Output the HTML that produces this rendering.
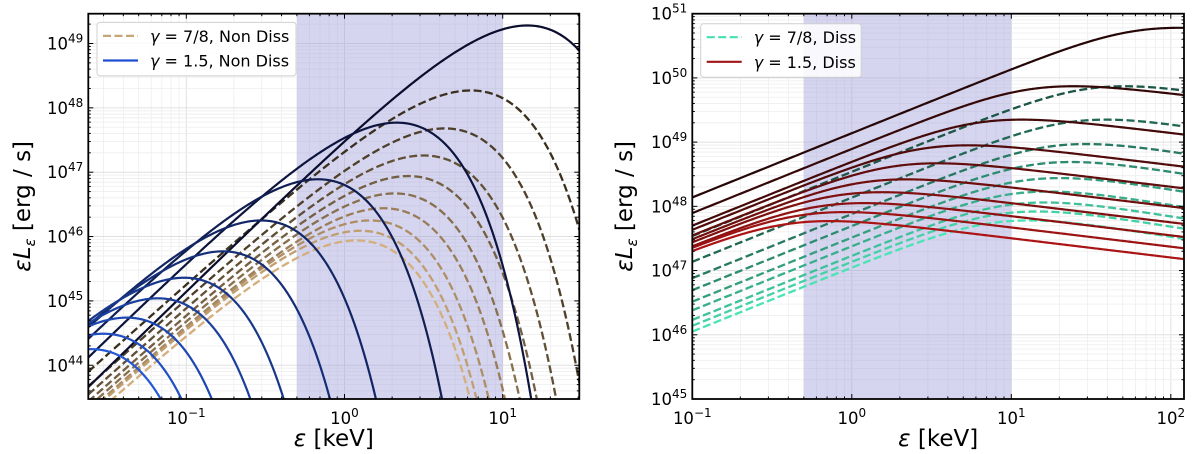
<!DOCTYPE html>
<html><head><meta charset="utf-8"><style>
html,body{margin:0;padding:0;background:#fff;width:1200px;height:454px;overflow:hidden;}
svg{display:block;font-family:"DejaVu Sans","Liberation Sans",sans-serif;}
</style></head><body>
<svg id="fig" width="1200" height="454" viewBox="0 0 1200 454">
<defs>
<clipPath id="clipL"><rect x="88.3" y="13.7" width="491" height="385.3"/></clipPath>
<clipPath id="clipR"><rect x="692.3" y="13.7" width="491.7" height="385.3"/></clipPath>
</defs>
<g id="left"></g>
<g id="right"></g>
</svg>
<script>
// ---- Left panel data (non-dissipative) ----
const blueE = [14.3, 2.14, 0.68, 0.296, 0.17, 0.097, 0.066, 0.042, 0.030, 0.025];
const blueLogL = [49.28, 47.77, 46.89, 46.25, 45.77, 45.36, 45.04, 44.74, 44.49, 44.25];
const tanE = [6.3, 4.3, 3.16, 2.53, 2.08, 1.76, 1.45, 1.26, 1.19];
const tanLogL = [48.27, 47.68, 47.26, 46.94, 46.67, 46.44, 46.25, 46.09, 45.94];
const leftXTicks = [-1, 0, 1];
const leftYTicks = [44, 45, 46, 47, 48, 49];
// ---- Right panel data (dissipative) ----
const redE = [113.5, 24.5, 11.6, 5.37, 3.44, 2.21, 1.55, 1.20, 0.91, 0.73];
const redLogL = [50.78, 49.87, 49.35, 48.95, 48.67, 48.42, 48.22, 48.05, 47.91, 47.77];
const greenE = [51.6, 39.3, 29.5, 23.8, 20.2, 17.0, 16.2, 14.5, 12.9];
const greenLogL = [49.87, 49.35, 48.97, 48.69, 48.44, 48.23, 48.06, 47.92, 47.78];
const rightXTicks = [-1, 0, 1, 2];
const rightYTicks = [45, 46, 47, 48, 49, 50, 51];
const band = [0.5, 10];

const NS = "http://www.w3.org/2000/svg";
function mk(tag, attrs, parent){const e=document.createElementNS(NS,tag);for(const k in attrs)e.setAttribute(k,attrs[k]);if(parent)parent.appendChild(e);return e;}
function lerpC(c1,c2,t){const a=[1,3,5].map(i=>parseInt(c1.substr(i,2),16)),b=[1,3,5].map(i=>parseInt(c2.substr(i,2),16));return "rgb("+a.map((v,i)=>Math.round(v+(b[i]-v)*t)).join(",")+")";}

function panel(g, P){
  const X = lx => P.x0 + (lx - P.lx0) * P.dx;
  const Y = ly => P.y0 - (ly - P.ly0) * P.dy;
  P.X=X;P.Y=Y;
  const grid=mk("g",{},g);
  
  
  for(let d=Math.floor(P.lxmin);d<=Math.ceil(P.lxmax);d++){
    for(let m=1;m<10;m++){const lx=d+Math.log10(m);if(lx<P.lxmin||lx>P.lxmax)continue;
      mk("line",{x1:X(lx),x2:X(lx),y1:P.top,y2:P.bottom,stroke:m==1?"#e0e0e0":"#eeeeee","stroke-width":m==1?1:0.8},grid);}
  }
  for(let d=Math.floor(P.lymin);d<=Math.ceil(P.lymax);d++){
    for(let m=1;m<10;m++){const ly=d+Math.log10(m);if(ly<P.lymin||ly>P.lymax)continue;
      mk("line",{y1:Y(ly),y2:Y(ly),x1:P.left,x2:P.right,stroke:m==1?"#e0e0e0":"#eeeeee","stroke-width":m==1?1:0.8},grid);}
  }
  const b=mk("rect",{x:X(Math.log10(band[0])),y:P.top,width:X(Math.log10(band[1]))-X(Math.log10(band[0])),height:P.bottom-P.top,fill:"#9c9cd8","fill-opacity":0.42},g);
  
  
  return {X,Y};
}

function curve(g,P,fn,color,dashed,name,clip){
  let d="";const N=400;
  for(let i=0;i<=N;i++){const lx=P.lxmin+(P.lxmax-P.lxmin)*i/N;const ly=fn(Math.pow(10,lx));
    let y=P.Y(ly); if(y>P.bottom+5)y=P.bottom+5; if(y<P.top-5)y=P.top-5;
    d+=(i?"L":"M")+P.X(lx).toFixed(2)+","+y.toFixed(2);}
  const p=mk("path",{d:d,fill:"none",stroke:color,"stroke-width":dashed?2.3:2.2,"clip-path":"url(#"+clip+")"},g);
  if(dashed)p.setAttribute("stroke-dasharray","8,3.5");
  
  
}

function axes(g,P,xt,yt,ylabelX){
  mk("rect",{x:P.left,y:P.top,width:P.right-P.left,height:P.bottom-P.top,fill:"none",stroke:"#000","stroke-width":1.8},g);
  const tk=mk("g",{stroke:"#000","stroke-width":1},g);
  for(let d=Math.floor(P.lxmin);d<=Math.ceil(P.lxmax);d++)for(let m=1;m<10;m++){const lx=d+Math.log10(m);if(lx<P.lxmin||lx>P.lxmax)continue;const L=m==1?5:2.5;const x=P.X(lx);
    mk("line",{x1:x,x2:x,y1:P.bottom,y2:P.bottom-L},tk);mk("line",{x1:x,x2:x,y1:P.top,y2:P.top+L},tk);}
  for(let d=Math.floor(P.lymin);d<=Math.ceil(P.lymax);d++)for(let m=1;m<10;m++){const ly=d+Math.log10(m);if(ly<P.lymin||ly>P.lymax)continue;const L=m==1?5:2.5;const y=P.Y(ly);
    mk("line",{y1:y,y2:y,x1:P.left,x2:P.left+L},tk);mk("line",{y1:y,y2:y,x1:P.right,x2:P.right-L},tk);}
  xt.forEach(v=>{const t=mk("text",{x:P.X(v),y:P.bottom+25,"text-anchor":"middle","font-size":16.5,fill:"#000"},g);
    
    
    t.appendChild(document.createTextNode("10"));const s=mk("tspan",{dy:-7,"font-size":12},t);s.textContent=(v<0?"\u2212":"")+Math.abs(v);});
  yt.forEach(v=>{const t=mk("text",{x:P.left-5,y:P.Y(v)+6,"text-anchor":"end","font-size":16.5,fill:"#000"},g);
    
    
    t.appendChild(document.createTextNode("10"));const s=mk("tspan",{dy:-7,"font-size":12},t);s.textContent=v;});
  const cx=(P.left+P.right)/2;
  const xl=mk("text",{x:cx,y:446,"text-anchor":"middle","font-size":23,fill:"#000"},g);
  
  
  xl.innerHTML='<tspan font-style="italic">ε</tspan> [keV]';
  const cy=(P.top+P.bottom)/2;
  const yl=mk("text",{x:ylabelX,y:cy,"text-anchor":"middle","font-size":23,fill:"#000",transform:"rotate(-90 "+ylabelX+" "+cy+")"},g);
  
  
  yl.innerHTML='<tspan font-style="italic">εL</tspan><tspan font-style="italic" font-size="15" dy="5">ε</tspan><tspan dy="-5"> [erg / s]</tspan>';
}

function legend(g,x,y,w,h,items){
  const lg=mk("g",{},g);
  
  
  mk("rect",{x:x,y:y,width:w,height:h,rx:3,fill:"rgba(255,255,255,0.85)",stroke:"#d0d0d0","stroke-width":1},lg);
  items.forEach((it,i)=>{const yy=y+13.5+i*24.6;
    const e=mk("g",{},lg);
    
    
    const l=mk("line",{x1:x+6,x2:x+41,y1:yy,y2:yy,stroke:it.c,"stroke-width":2.2},e);
    if(it.d)l.setAttribute("stroke-dasharray","8,3.5");
    const t=mk("text",{x:x+53,y:yy+6,"font-size":16,fill:"#000"},e);
    t.innerHTML='<tspan font-style="italic">γ</tspan> = '+it.t;});
}

// Left panel
const PL={left:88.3,right:579.3,top:13.7,bottom:399,x0:344.5,lx0:0,dx:158.2,y0:43.5,ly0:49,dy:64.35};
PL.lxmin=(PL.left-PL.x0)/PL.dx;PL.lxmax=(PL.right-PL.x0)/PL.dx;PL.lymin=49-(PL.bottom-43.5)/64.35;PL.lymax=49+(43.5-PL.top)/64.35;
const gL=document.getElementById("left");
panel(gL,PL);
function cutoffModel(E,logL,a){return x=>{const r=x/E;return logL+a*Math.log10(r)+a*(1-r)*Math.LOG10E;};}
tanE.forEach((E,i)=>{const t=i/(tanE.length-1);curve(gL,PL,cutoffModel(E,tanLogL[i],2.2),lerpC("#3b2f1f","#d4ae7c",t),true,"tan-dashed-curve-"+(i+1),"clipL");});
blueE.forEach((E,i)=>{const t=i/(blueE.length-1);curve(gL,PL,cutoffModel(E,blueLogL[i],2.4),lerpC("#0a0d2c","#2358d6",t),false,"blue-solid-curve-"+(i+1),"clipL");});
axes(gL,PL,leftXTicks,leftYTicks,30);
legend(gL,97,22.4,199,53.5,[{c:"#c8a476",d:true,t:"7/8, Non Diss"},{c:"#1f4fd0",d:false,t:"1.5, Non Diss"}]);

// Right panel
const PR={left:692.3,right:1184,top:13.7,bottom:399,x0:692.3,lx0:-1,dx:159.5,y0:399,ly0:45,dy:64.22};
PR.lxmin=-1;PR.lxmax=-1+(PR.right-PR.left)/PR.dx;PR.lymin=45;PR.lymax=45+(PR.bottom-PR.top)/PR.dy;
const gR=document.getElementById("right");
panel(gR,PR);
function bplModel(E,logL,a,b,s){const us=Math.pow(a/(-b),1/s);const f=u=>a*Math.log10(u)-(a-b)/s*Math.log10(1+Math.pow(u,s));const fm=f(us);
  return x=>logL+f(x/E*us)-fm;}
greenE.forEach((E,i)=>{const t=i/(greenE.length-1);curve(gR,PR,bplModel(E,greenLogL[i],1,-0.4,2),lerpC("#1b5646","#4ae3b4",t),true,"green-dashed-curve-"+(i+1),"clipR");});
redE.forEach((E,i)=>{const t=i/(redE.length-1);curve(gR,PR,bplModel(E,redLogL[i],1,-0.3,2),lerpC("#260707","#ab1414",t),false,"red-solid-curve-"+(i+1),"clipR");});
axes(gR,PR,rightXTicks,rightYTicks,632);
legend(gR,700.7,23.7,160.5,53.6,[{c:"#44e0b0",d:true,t:"7/8, Diss"},{c:"#a01515",d:false,t:"1.5, Diss"}]);
</script>
</body></html>
